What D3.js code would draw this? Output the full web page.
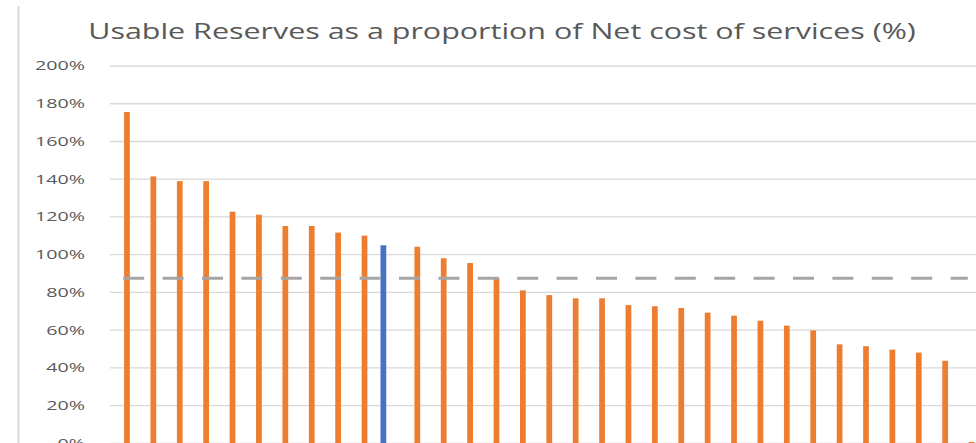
<!DOCTYPE html>
<html>
<head>
<meta charset="utf-8">
<script src="https://cdn.jsdelivr.net/npm/d3@7"></script>
<style>
  html, body { margin: 0; padding: 0; background: #fff; }
  svg { display: block; }
</style>
</head>
<body>
<div id="chart"></div>
<script>
// data (category names are not visible in the crop)
var categories = ["1","2","3","4","5","6","7","8","9","10","11","12","13","14","15","16","17",
  "18","19","20","21","22","23","24","25","26","27","28","29","30","31","32","33"];
var seriesNames = ["highlight", "others"];
var highlightValues = [null,null,null,null,null,null,null,null,null,null,105.0,null,null,null,null,null,null,
  null,null,null,null,null,null,null,null,null,null,null,null,null,null,null,null];
var otherValues = [175.6,141.5,139.0,139.0,122.8,121.2,115.2,115.2,111.7,110.1,null,104.2,98.1,95.6,87.8,81.1,78.6,
  76.9,76.9,73.3,72.7,71.8,69.3,67.7,65.0,62.4,59.9,52.5,51.5,49.7,48.1,43.8,0.8];
var average = 87.5;
var yTicks = [0,20,40,60,80,100,120,140,160,180,200];
var title = "Usable Reserves as a proportion of Net cost of services (%)";

var width = 976, height = 443;
var colors = {highlight: "#4472c4", others: "#ed7d31"};

var svg = d3.select("#chart").append("svg")
    .attr("width", width)
    .attr("height", height);

var x = d3.scaleBand()
    .domain(categories)
    .range([110, 981])
    .paddingInner(1.5/3.5)
    .paddingOuter(0.75/3.5);

var xs = d3.scaleBand()
    .domain(seriesNames)
    .range([0, x.bandwidth()]);

var y = d3.scaleLinear()
    .domain([0, 200])
    .range([443.4, 66]);

// chart border (left edge only visible)
svg.append("line")
    .attr("x1", 18.5).attr("x2", 18.5)
    .attr("y1", 6).attr("y2", height)
    .attr("stroke", "#d9d9d9")
    .attr("stroke-width", 2);

// title, stretched like the source
var t = svg.append("text")
    .attr("font-family", "'Open Sans', sans-serif")
    .attr("font-size", 22)
    .attr("fill", "#595959")
    .attr("text-anchor", "middle")
    .text(title);
var tw = t.node().getComputedTextLength();
t.attr("transform", "translate(502,39) scale(" + (828 / tw) + ",1)");

// gridlines
svg.append("g")
    .selectAll("line")
    .data(yTicks)
    .join("line")
    .attr("x1", 110).attr("x2", width)
    .attr("y1", d => y(d)).attr("y2", d => y(d))
    .attr("stroke", "#d9d9d9")
    .attr("stroke-width", 1.3);

// y axis labels
var fmt = d => d + "%";
var probe = svg.append("text")
    .attr("font-family", "'Open Sans', sans-serif")
    .attr("font-size", 12.6)
    .text("200%");
var sx = 50 / probe.node().getComputedTextLength();
probe.remove();

svg.append("g")
    .attr("font-family", "'Open Sans', sans-serif")
    .attr("font-size", 12.6)
    .attr("fill", "#595959")
    .attr("text-anchor", "end")
    .selectAll("text")
    .data(yTicks)
    .join("text")
    .attr("transform", d => "translate(85," + y(d) + ") scale(" + sx + ",1)")
    .attr("dy", "0.35em")
    .text(fmt);

// bars
var rows = categories.map(function(c, i) {
  return {cat: c, highlight: highlightValues[i], others: otherValues[i]};
});

var inset = 0.9;
svg.append("g")
    .selectAll("g")
    .data(rows)
    .join("g")
    .attr("transform", d => "translate(" + x(d.cat) + ",0)")
    .selectAll("rect")
    .data(d => seriesNames.filter(s => d[s] != null).map(s => ({key: s, value: d[s]})))
    .join("rect")
    .attr("x", d => xs(d.key) + inset)
    .attr("width", xs.bandwidth() - 2 * inset)
    .attr("y", d => y(d.value))
    .attr("height", d => y(0) - y(d.value))
    .attr("fill", d => colors[d.key]);

// average line
var line = d3.line()
    .x(d => x(d) + x.bandwidth() / 2)
    .y(() => y(average));

svg.append("path")
    .datum([categories[0], categories[categories.length - 1]])
    .attr("d", line)
    .attr("fill", "none")
    .attr("stroke", "#a5a5a5")
    .attr("stroke-width", 3)
    .attr("stroke-dasharray", "21,18.4");
</script>
</body>
</html>
